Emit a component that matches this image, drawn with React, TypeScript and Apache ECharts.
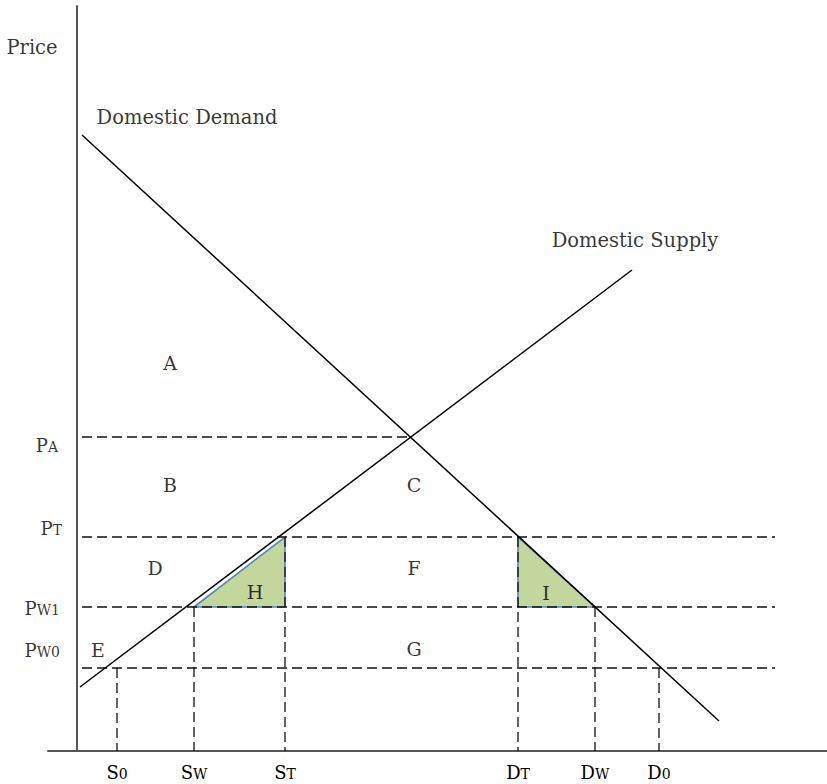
import React, { useEffect, useRef } from 'react';
import * as echarts from 'echarts';

// Data units: quantity along x, price along y (arbitrary diagram units)
const demandLine = [[5, 616], [642, 30]];
const supplyLine = [[3, 64], [555, 481]];

const priceValues = [314, 214, 144, 83]; // P_A, P_T, P_W1, P_W0
const priceSubs = ['A', 'T', 'W1', 'W0'];
const priceLineStart = [5, 5, 5, 5];
const priceLineEnd = [333, 698, 698, 698];
const priceLabelX = [-19, -15, -17, -17];
const priceLabelY = [306, 223, 143, 101];

const quantityMains = ['S', 'S', 'S', 'D', 'D', 'D'];
const quantitySubs = ['0', 'W', 'T', 'T', 'W', '0'];
const quantityValues = [40, 117, 208, 441, 518, 582]; // S0, SW, ST, DT, DW, D0
const quantityPriceLevels = [83, 144, 214, 214, 144, 83];

const regionNames = ['A', 'B', 'C', 'D', 'E', 'F', 'G', 'H', 'I'];
const regionX = [93, 93, 337, 78, 21, 337, 337, 178, 469];
const regionY = [388, 266, 266, 183, 101, 183, 102, 159, 158];

const titleTexts = ['Price', 'Domestic Demand', 'Domestic Supply'];
const titleX = [-45, 110, 558];
const titleY = [704, 634, 511];

const FONT = 'DejaVu Serif';
const INK = '#000';

export default function App() {
  const ref = useRef<HTMLDivElement>(null);
  useEffect(() => {
    if (!ref.current) return;
    const chart = echarts.init(ref.current, null, { renderer: 'svg' });

    const [PA, PT, PW1, PW0] = priceValues;
    const [S0, SW, ST, DT, DW, D0] = quantityValues;
    const triangles = [
      [SW, PW1, ST, PT, ST, PW1],
      [DT, PT, DT, PW1, DW, PW1],
    ];

    const dashStyle = { color: '#111', width: 1.3, type: [10, 5] as number[] };
    const hSeries = priceValues.map((p, i) => ({
      type: 'line',
      data: [[priceLineStart[i], p], [priceLineEnd[i], p]],
      symbol: 'none',
      silent: true,
      clip: false,
      lineStyle: dashStyle,
      z: 3,
    }));
    const vSeries = quantityValues.map((q, i) => ({
      type: 'line',
      data: [[q, quantityPriceLevels[i]], [q, 0]],
      symbol: 'none',
      silent: true,
      clip: false,
      lineStyle: dashStyle,
      z: 3,
    }));

    const solid = { color: '#000', width: 1.5 };
    const richP = {
      m: { fontFamily: FONT, fontSize: 18, lineHeight: 18, color: INK, verticalAlign: 'bottom' },
      s: { fontFamily: FONT, fontSize: 14, lineHeight: 14, color: INK, verticalAlign: 'bottom' },
    };

    const option: any = {
      animation: false,
      backgroundColor: '#fff',
      grid: {
        left: 48, right: 0, top: 6, bottom: 33,
        containLabel: false,
        outerBoundsMode: 'none',
      },
      xAxis: {
        type: 'value',
        min: -29,
        max: 750,
        axisLine: { show: true, onZero: true, lineStyle: { color: '#555', width: 2 } },
        axisTick: { show: false },
        splitLine: { show: false },
        axisLabel: {
          show: true,
          customValues: quantityValues,
          margin: 12,
          formatter: (v: number) => {
            const i = quantityValues.indexOf(v);
            if (i < 0) return '';
            return `{m|${quantityMains[i]}}{s|${quantitySubs[i]}}`;
          },
          rich: richP,
        },
      },
      yAxis: {
        type: 'value',
        min: 0,
        max: 745,
        axisLine: { show: true, onZero: true, lineStyle: { color: '#555', width: 2 } },
        axisTick: { show: false },
        splitLine: { show: false },
        axisLabel: { show: false },
      },
      series: [
        {
          type: 'custom',
          coordinateSystem: 'cartesian2d',
          silent: true,
          z: 1,
          data: triangles,
          renderItem: (_p: any, api: any) => {
            const pts = [0, 1, 2].map((k) => api.coord([api.value(k * 2), api.value(k * 2 + 1)]));
            return {
              type: 'polygon',
              shape: { points: pts },
              style: { fill: '#c3d69b', stroke: '#5585c0', lineWidth: 1.6 },
            };
          },
        },
        ...hSeries,
        ...vSeries,
        {
          type: 'line', data: demandLine, symbol: 'none', silent: true, clip: false,
          lineStyle: solid, z: 4,
        },
        {
          type: 'line', data: supplyLine, symbol: 'none', silent: true, clip: false,
          lineStyle: solid, z: 4,
        },
        {
          type: 'scatter',
          symbolSize: 0,
          silent: true,
          clip: false,
          z: 5,
          data: regionNames.map((n, i) => ({
            value: [regionX[i], regionY[i]],
            label: {
              show: true, position: 'inside', formatter: n,
              fontFamily: FONT, fontSize: 19, color: INK,
            },
          })),
        },
        {
          type: 'scatter',
          symbolSize: 0,
          silent: true,
          clip: false,
          z: 5,
          data: titleTexts.map((t, i) => ({
            value: [titleX[i], titleY[i]],
            label: {
              show: true, position: 'inside', formatter: t,
              fontFamily: FONT, fontSize: 19.5, color: INK,
            },
          })),
        },
        {
          type: 'scatter',
          symbolSize: 0,
          silent: true,
          clip: false,
          z: 5,
          data: priceSubs.map((s, i) => ({
            value: [priceLabelX[i], priceLabelY[i]],
            label: {
              show: true, position: 'left', distance: 0,
              formatter: `{m|P}{s|${s}}`,
              rich: richP,
            },
          })),
        },
      ],
    };
    chart.setOption(option);
    return () => chart.dispose();
  }, []);

  return (
    <div
      ref={ref}
      style={{ position: 'fixed', left: 0, top: 0, width: 827, height: 784, background: '#fff' }}
    />
  );
}
